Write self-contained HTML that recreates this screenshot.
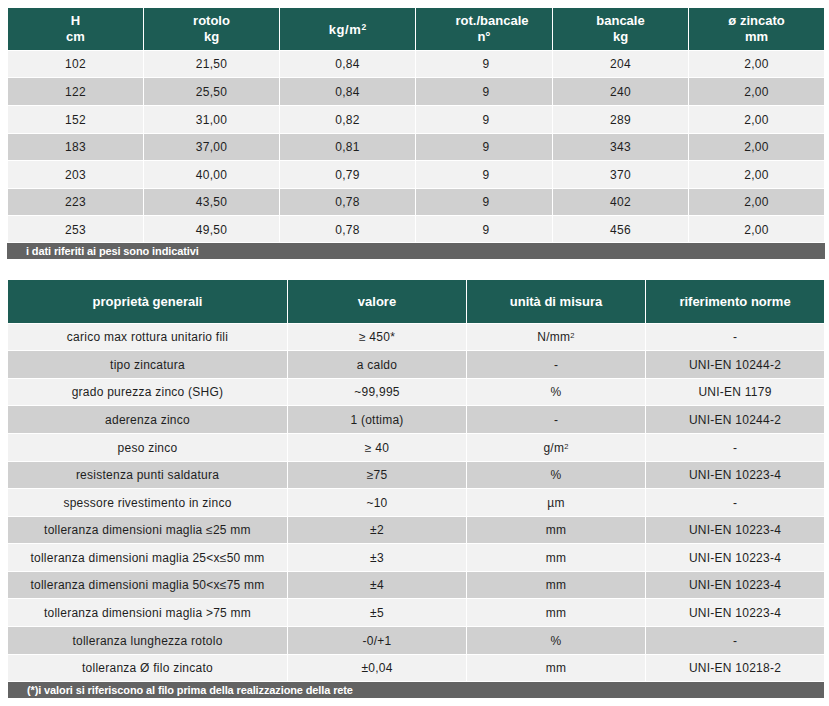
<!DOCTYPE html>
<html><head><meta charset="utf-8"><style>
html,body{margin:0;padding:0;background:#fff;}
body{width:829px;height:706px;position:relative;overflow:hidden;font-family:"Liberation Sans",sans-serif;}
.c{position:absolute;display:flex;align-items:center;justify-content:center;text-align:center;box-sizing:border-box;}
.h{color:#fff;font-weight:bold;font-size:13px;line-height:15.5px;}
.d{color:#1e1e1e;font-size:12px;line-height:14px;letter-spacing:0.25px;}
sup{font-size:7.5px;line-height:0;vertical-align:3px;}
.h1{line-height:16px;padding-bottom:1px;}
.h1 sup{font-size:8.5px;vertical-align:4px;}
.s1{position:relative;top:1px;left:0.3px;letter-spacing:0.6px;}
.rb{position:relative;left:8px;}
.f{position:absolute;background:#636363;color:#fff;font-weight:bold;font-size:11px;line-height:16px;padding-left:19px;letter-spacing:-0.12px;box-sizing:border-box;white-space:nowrap;}
</style></head><body>
<div class="c h h1" style="left:8px;top:8px;width:135px;height:42px;background:#1d5c54"><span>H<br>cm</span></div>
<div class="c h h1" style="left:144px;top:8px;width:135px;height:42px;background:#1d5c54"><span>rotolo<br>kg</span></div>
<div class="c h h1" style="left:280px;top:8px;width:135px;height:42px;background:#1d5c54"><span><span class="s1">kg/m<sup>2</sup></span></span></div>
<div class="c h h1" style="left:416px;top:8px;width:136px;height:42px;background:#1d5c54"><span><span class="rb">rot./bancale</span><br>n°</span></div>
<div class="c h h1" style="left:553px;top:8px;width:135px;height:42px;background:#1d5c54"><span>bancale<br>kg</span></div>
<div class="c h h1" style="left:689px;top:8px;width:135px;height:42px;background:#1d5c54"><span>ø zincato<br>mm</span></div>
<div class="c d" style="left:8px;top:51px;width:135px;height:26px;background:#f2f2f2"><span>102</span></div>
<div class="c d" style="left:144px;top:51px;width:135px;height:26px;background:#f2f2f2"><span>21,50</span></div>
<div class="c d" style="left:280px;top:51px;width:135px;height:26px;background:#f2f2f2"><span>0,84</span></div>
<div class="c d" style="left:416px;top:51px;width:136px;height:26px;background:#f2f2f2"><span style="position:relative;left:2px">9</span></div>
<div class="c d" style="left:553px;top:51px;width:135px;height:26px;background:#f2f2f2"><span>204</span></div>
<div class="c d" style="left:689px;top:51px;width:135px;height:26px;background:#f2f2f2"><span>2,00</span></div>
<div class="c d" style="left:8px;top:78px;width:135px;height:27px;background:#d0d0d0"><span>122</span></div>
<div class="c d" style="left:144px;top:78px;width:135px;height:27px;background:#d0d0d0"><span>25,50</span></div>
<div class="c d" style="left:280px;top:78px;width:135px;height:27px;background:#d0d0d0"><span>0,84</span></div>
<div class="c d" style="left:416px;top:78px;width:136px;height:27px;background:#d0d0d0"><span style="position:relative;left:2px">9</span></div>
<div class="c d" style="left:553px;top:78px;width:135px;height:27px;background:#d0d0d0"><span>240</span></div>
<div class="c d" style="left:689px;top:78px;width:135px;height:27px;background:#d0d0d0"><span>2,00</span></div>
<div class="c d" style="left:8px;top:106px;width:135px;height:27px;background:#f2f2f2"><span>152</span></div>
<div class="c d" style="left:144px;top:106px;width:135px;height:27px;background:#f2f2f2"><span>31,00</span></div>
<div class="c d" style="left:280px;top:106px;width:135px;height:27px;background:#f2f2f2"><span>0,82</span></div>
<div class="c d" style="left:416px;top:106px;width:136px;height:27px;background:#f2f2f2"><span style="position:relative;left:2px">9</span></div>
<div class="c d" style="left:553px;top:106px;width:135px;height:27px;background:#f2f2f2"><span>289</span></div>
<div class="c d" style="left:689px;top:106px;width:135px;height:27px;background:#f2f2f2"><span>2,00</span></div>
<div class="c d" style="left:8px;top:134px;width:135px;height:26px;background:#d0d0d0"><span>183</span></div>
<div class="c d" style="left:144px;top:134px;width:135px;height:26px;background:#d0d0d0"><span>37,00</span></div>
<div class="c d" style="left:280px;top:134px;width:135px;height:26px;background:#d0d0d0"><span>0,81</span></div>
<div class="c d" style="left:416px;top:134px;width:136px;height:26px;background:#d0d0d0"><span style="position:relative;left:2px">9</span></div>
<div class="c d" style="left:553px;top:134px;width:135px;height:26px;background:#d0d0d0"><span>343</span></div>
<div class="c d" style="left:689px;top:134px;width:135px;height:26px;background:#d0d0d0"><span>2,00</span></div>
<div class="c d" style="left:8px;top:161px;width:135px;height:27px;background:#f2f2f2"><span>203</span></div>
<div class="c d" style="left:144px;top:161px;width:135px;height:27px;background:#f2f2f2"><span>40,00</span></div>
<div class="c d" style="left:280px;top:161px;width:135px;height:27px;background:#f2f2f2"><span>0,79</span></div>
<div class="c d" style="left:416px;top:161px;width:136px;height:27px;background:#f2f2f2"><span style="position:relative;left:2px">9</span></div>
<div class="c d" style="left:553px;top:161px;width:135px;height:27px;background:#f2f2f2"><span>370</span></div>
<div class="c d" style="left:689px;top:161px;width:135px;height:27px;background:#f2f2f2"><span>2,00</span></div>
<div class="c d" style="left:8px;top:189px;width:135px;height:26px;background:#d0d0d0"><span>223</span></div>
<div class="c d" style="left:144px;top:189px;width:135px;height:26px;background:#d0d0d0"><span>43,50</span></div>
<div class="c d" style="left:280px;top:189px;width:135px;height:26px;background:#d0d0d0"><span>0,78</span></div>
<div class="c d" style="left:416px;top:189px;width:136px;height:26px;background:#d0d0d0"><span style="position:relative;left:2px">9</span></div>
<div class="c d" style="left:553px;top:189px;width:135px;height:26px;background:#d0d0d0"><span>402</span></div>
<div class="c d" style="left:689px;top:189px;width:135px;height:26px;background:#d0d0d0"><span>2,00</span></div>
<div class="c d" style="left:8px;top:216px;width:135px;height:26px;background:#f2f2f2"><span style="position:relative;top:1px">253</span></div>
<div class="c d" style="left:144px;top:216px;width:135px;height:26px;background:#f2f2f2"><span style="position:relative;top:1px">49,50</span></div>
<div class="c d" style="left:280px;top:216px;width:135px;height:26px;background:#f2f2f2"><span style="position:relative;top:1px">0,78</span></div>
<div class="c d" style="left:416px;top:216px;width:136px;height:26px;background:#f2f2f2"><span style="position:relative;left:2px;top:1px">9</span></div>
<div class="c d" style="left:553px;top:216px;width:135px;height:26px;background:#f2f2f2"><span style="position:relative;top:1px">456</span></div>
<div class="c d" style="left:689px;top:216px;width:135px;height:26px;background:#f2f2f2"><span style="position:relative;top:1px">2,00</span></div>
<div class="f" style="left:7px;top:243px;width:818px;height:16px">i dati riferiti ai pesi sono indicativi</div>
<div class="c h" style="left:8px;top:280px;width:279px;height:43px;background:#1d5c54"><span>proprietà generali</span></div>
<div class="c h" style="left:288px;top:280px;width:178px;height:43px;background:#1d5c54"><span>valore</span></div>
<div class="c h" style="left:467px;top:280px;width:178px;height:43px;background:#1d5c54"><span>unità di misura</span></div>
<div class="c h" style="left:646px;top:280px;width:178px;height:43px;background:#1d5c54"><span>riferimento norme</span></div>
<div class="c d" style="left:8px;top:324px;width:279px;height:26px;background:#f2f2f2"><span>carico max rottura unitario fili</span></div>
<div class="c d" style="left:288px;top:324px;width:178px;height:26px;background:#f2f2f2"><span>≥ 450*</span></div>
<div class="c d" style="left:467px;top:324px;width:178px;height:26px;background:#f2f2f2"><span>N/mm<sup>2</sup></span></div>
<div class="c d" style="left:646px;top:324px;width:178px;height:26px;background:#f2f2f2"><span>-</span></div>
<div class="c d" style="left:8px;top:351px;width:279px;height:27px;background:#d0d0d0"><span>tipo zincatura</span></div>
<div class="c d" style="left:288px;top:351px;width:178px;height:27px;background:#d0d0d0"><span>a caldo</span></div>
<div class="c d" style="left:467px;top:351px;width:178px;height:27px;background:#d0d0d0"><span>-</span></div>
<div class="c d" style="left:646px;top:351px;width:178px;height:27px;background:#d0d0d0"><span>UNI-EN 10244-2</span></div>
<div class="c d" style="left:8px;top:379px;width:279px;height:26px;background:#f2f2f2"><span>grado purezza zinco (SHG)</span></div>
<div class="c d" style="left:288px;top:379px;width:178px;height:26px;background:#f2f2f2"><span>~99,995</span></div>
<div class="c d" style="left:467px;top:379px;width:178px;height:26px;background:#f2f2f2"><span>%</span></div>
<div class="c d" style="left:646px;top:379px;width:178px;height:26px;background:#f2f2f2"><span>UNI-EN 1179</span></div>
<div class="c d" style="left:8px;top:406px;width:279px;height:27px;background:#d0d0d0"><span>aderenza zinco</span></div>
<div class="c d" style="left:288px;top:406px;width:178px;height:27px;background:#d0d0d0"><span>1 (ottima)</span></div>
<div class="c d" style="left:467px;top:406px;width:178px;height:27px;background:#d0d0d0"><span>-</span></div>
<div class="c d" style="left:646px;top:406px;width:178px;height:27px;background:#d0d0d0"><span>UNI-EN 10244-2</span></div>
<div class="c d" style="left:8px;top:434px;width:279px;height:27px;background:#f2f2f2"><span>peso zinco</span></div>
<div class="c d" style="left:288px;top:434px;width:178px;height:27px;background:#f2f2f2"><span>≥ 40</span></div>
<div class="c d" style="left:467px;top:434px;width:178px;height:27px;background:#f2f2f2"><span>g/m<sup>2</sup></span></div>
<div class="c d" style="left:646px;top:434px;width:178px;height:27px;background:#f2f2f2"><span>-</span></div>
<div class="c d" style="left:8px;top:462px;width:279px;height:26px;background:#d0d0d0"><span>resistenza punti saldatura</span></div>
<div class="c d" style="left:288px;top:462px;width:178px;height:26px;background:#d0d0d0"><span>≥75</span></div>
<div class="c d" style="left:467px;top:462px;width:178px;height:26px;background:#d0d0d0"><span>%</span></div>
<div class="c d" style="left:646px;top:462px;width:178px;height:26px;background:#d0d0d0"><span>UNI-EN 10223-4</span></div>
<div class="c d" style="left:8px;top:489px;width:279px;height:27px;background:#f2f2f2"><span>spessore rivestimento in zinco</span></div>
<div class="c d" style="left:288px;top:489px;width:178px;height:27px;background:#f2f2f2"><span>~10</span></div>
<div class="c d" style="left:467px;top:489px;width:178px;height:27px;background:#f2f2f2"><span>µm</span></div>
<div class="c d" style="left:646px;top:489px;width:178px;height:27px;background:#f2f2f2"><span>-</span></div>
<div class="c d" style="left:8px;top:517px;width:279px;height:26px;background:#d0d0d0"><span>tolleranza dimensioni maglia ≤25 mm</span></div>
<div class="c d" style="left:288px;top:517px;width:178px;height:26px;background:#d0d0d0"><span>±2</span></div>
<div class="c d" style="left:467px;top:517px;width:178px;height:26px;background:#d0d0d0"><span>mm</span></div>
<div class="c d" style="left:646px;top:517px;width:178px;height:26px;background:#d0d0d0"><span>UNI-EN 10223-4</span></div>
<div class="c d" style="left:8px;top:544px;width:279px;height:27px;background:#f2f2f2"><span>tolleranza dimensioni maglia 25&lt;x≤50 mm</span></div>
<div class="c d" style="left:288px;top:544px;width:178px;height:27px;background:#f2f2f2"><span>±3</span></div>
<div class="c d" style="left:467px;top:544px;width:178px;height:27px;background:#f2f2f2"><span>mm</span></div>
<div class="c d" style="left:646px;top:544px;width:178px;height:27px;background:#f2f2f2"><span>UNI-EN 10223-4</span></div>
<div class="c d" style="left:8px;top:572px;width:279px;height:26px;background:#d0d0d0"><span>tolleranza dimensioni maglia 50&lt;x≤75 mm</span></div>
<div class="c d" style="left:288px;top:572px;width:178px;height:26px;background:#d0d0d0"><span>±4</span></div>
<div class="c d" style="left:467px;top:572px;width:178px;height:26px;background:#d0d0d0"><span>mm</span></div>
<div class="c d" style="left:646px;top:572px;width:178px;height:26px;background:#d0d0d0"><span>UNI-EN 10223-4</span></div>
<div class="c d" style="left:8px;top:599px;width:279px;height:27px;background:#f2f2f2"><span>tolleranza dimensioni maglia &gt;75 mm</span></div>
<div class="c d" style="left:288px;top:599px;width:178px;height:27px;background:#f2f2f2"><span>±5</span></div>
<div class="c d" style="left:467px;top:599px;width:178px;height:27px;background:#f2f2f2"><span>mm</span></div>
<div class="c d" style="left:646px;top:599px;width:178px;height:27px;background:#f2f2f2"><span>UNI-EN 10223-4</span></div>
<div class="c d" style="left:8px;top:627px;width:279px;height:27px;background:#d0d0d0"><span>tolleranza lunghezza rotolo</span></div>
<div class="c d" style="left:288px;top:627px;width:178px;height:27px;background:#d0d0d0"><span>-0/+1</span></div>
<div class="c d" style="left:467px;top:627px;width:178px;height:27px;background:#d0d0d0"><span>%</span></div>
<div class="c d" style="left:646px;top:627px;width:178px;height:27px;background:#d0d0d0"><span>-</span></div>
<div class="c d" style="left:8px;top:655px;width:279px;height:26px;background:#f2f2f2"><span>tolleranza Ø filo zincato</span></div>
<div class="c d" style="left:288px;top:655px;width:178px;height:26px;background:#f2f2f2"><span>±0,04</span></div>
<div class="c d" style="left:467px;top:655px;width:178px;height:26px;background:#f2f2f2"><span>mm</span></div>
<div class="c d" style="left:646px;top:655px;width:178px;height:26px;background:#f2f2f2"><span>UNI-EN 10218-2</span></div>
<div class="f" style="left:8px;top:682px;width:816px;height:16px">(*)i valori si riferiscono al filo prima della realizzazione della rete</div>
</body></html>
